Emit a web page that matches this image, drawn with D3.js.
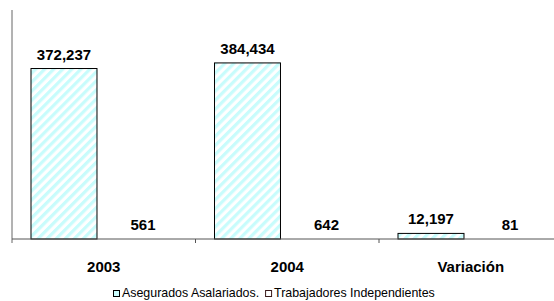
<!DOCTYPE html>
<html>
<head>
<meta charset="utf-8">
<script src="https://cdn.jsdelivr.net/npm/d3@7"></script>
<style>
  body { margin: 0; background: #fff; }
  svg { display: block; font-family: "Liberation Sans", Arial, sans-serif; }
</style>
</head>
<body>
<div id="chart"></div>
<script>
// data
const categories = ["2003", "2004", "Variación"];
const seriesNames = ["Asegurados Asalariados.", "Trabajadores Independientes"];
const asalariados = [372237, 384434, 12197];
const independientes = [561, 642, 81];

const width = 554, height = 301;
const plotLeft = 12, plotTop = 10, baseline = 239;

const svg = d3.select("#chart").append("svg")
    .attr("width", width)
    .attr("height", height);

// diagonal hatch for the first series
const defs = svg.append("defs");
const pat = defs.append("pattern")
    .attr("id", "hatch")
    .attr("patternUnits", "userSpaceOnUse")
    .attr("width", 6.4)
    .attr("height", 6.4)
    .attr("patternTransform", "rotate(45)");
pat.append("rect").attr("width", 6.4).attr("height", 6.4).attr("fill", "#fff");
pat.append("rect").attr("width", 3.2).attr("height", 6.4).attr("fill", "#c8fcfc");

const x = d3.scaleBand()
    .domain(categories)
    .range([plotLeft, plotLeft + 3 * 183.5]);

const xSeries = d3.scaleBand()
    .domain(seriesNames)
    .range([19, 19 + 145])
    .paddingInner(0.165);

const y = d3.scaleLinear()
    .domain([0, 500000])
    .range([baseline, plotTop]);

const rows = categories.map((c, i) => ({
    cat: c,
    values: [
        { name: seriesNames[0], v: asalariados[i] },
        { name: seriesNames[1], v: independientes[i] }
    ]
}));

// y axis line
svg.append("line")
    .attr("x1", plotLeft).attr("x2", plotLeft)
    .attr("y1", plotTop).attr("y2", baseline + 4)
    .attr("stroke", "#666").attr("stroke-width", 1);

const groups = svg.selectAll("g.cat")
    .data(rows)
    .enter()
    .append("g")
    .attr("class", "cat")
    .attr("transform", d => `translate(${x(d.cat)},0)`);

groups.selectAll("rect")
    .data(d => d.values)
    .enter()
    .append("rect")
    .attr("x", d => xSeries(d.name))
    .attr("y", d => y(d.v))
    .attr("width", xSeries.bandwidth())
    .attr("height", d => baseline - y(d.v))
    .attr("fill", (d, i) => i === 0 ? "url(#hatch)" : "#fff")
    .attr("stroke", (d, i) => i === 0 ? "#000" : "none")
    .attr("stroke-width", 1);

groups.selectAll("text.val")
    .data(d => d.values)
    .enter()
    .append("text")
    .attr("class", "val")
    .attr("x", d => xSeries(d.name) + xSeries.bandwidth() / 2)
    .attr("y", d => y(d.v) - 9)
    .attr("text-anchor", "middle")
    .style("font-size", "15px")
    .style("font-weight", "bold")
    .text(d => d3.format(",")(d.v));

// baseline and category ticks
svg.append("line")
    .attr("x1", plotLeft).attr("x2", width)
    .attr("y1", baseline).attr("y2", baseline)
    .attr("stroke", "#555").attr("stroke-width", 1);

svg.selectAll("line.tick")
    .data(categories.slice(1))
    .enter()
    .append("line")
    .attr("class", "tick")
    .attr("x1", d => x(d)).attr("x2", d => x(d))
    .attr("y1", baseline).attr("y2", baseline + 4)
    .attr("stroke", "#555");

svg.selectAll("text.catlabel")
    .data(categories)
    .enter()
    .append("text")
    .attr("class", "catlabel")
    .attr("x", d => x(d) + x.bandwidth() / 2)
    .attr("y", 272)
    .attr("text-anchor", "middle")
    .style("font-size", "15px")
    .style("font-weight", "bold")
    .text(d => d);

// legend
const legend = svg.append("g").attr("transform", "translate(113,0)");
let lx = 0;
seriesNames.forEach((name, i) => {
    legend.append("rect")
        .attr("x", lx + 0.5).attr("y", 290.5)
        .attr("width", 6).attr("height", 6)
        .attr("fill", i === 0 ? "#ccffff" : "#fff")
        .attr("stroke", i === 0 ? "#000" : "#3a1a1a");
    const t = legend.append("text")
        .attr("x", lx + 9)
        .attr("y", 297)
        .style("font-size", "12.4px")
        .text(name);
    lx += 9 + t.node().getComputedTextLength() + 6;
});
</script>
</body>
</html>
